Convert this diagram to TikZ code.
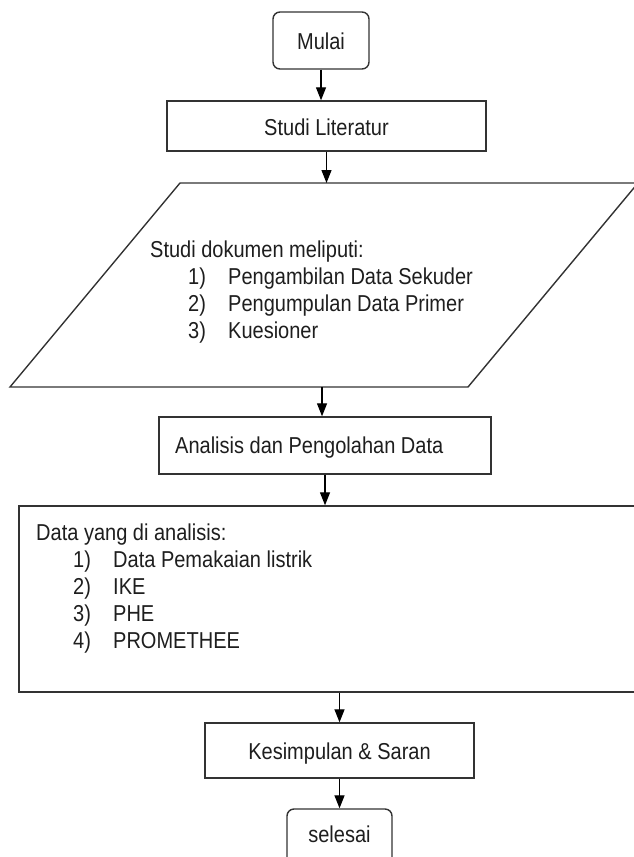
\documentclass[tikz,border=0pt]{standalone}
\usepackage{fontspec}
\setmainfont[FakeStretch=0.87]{Liberation Sans}
\usetikzlibrary{arrows.meta}
\definecolor{ink}{HTML}{1E1E1E}
\definecolor{linec}{HTML}{333333}
\tikzset{
  base/.style={draw=linec, line width=1.4pt, text=ink, inner sep=0pt, font=\fontsize{23}{27}\selectfont},
  termbox/.style={base, rounded corners=7pt},
  procbox/.style={base},
  txt/.style={text=ink, inner sep=0pt, anchor=base west, font=\fontsize{23}{27}\selectfont},
  flow/.style={draw=black, line width=1.3pt, -{Triangle[length=13pt,width=10pt]}},
}
\begin{document}
\begin{tikzpicture}[x=1pt,y=-1pt]
\useasboundingbox (0,0) rectangle (634,857);
\clip (0,0) rectangle (634,857);
\fill[white] (0,0) rectangle (634,857);
% terminals and process boxes
\node[termbox, minimum width=96pt, minimum height=57pt] (mulai) at (321,40.5) {};
\node[txt, anchor=base] (mulaitxt) at (321,49) {Mulai};
\node[procbox, minimum width=319pt, minimum height=50pt] (studi) at (326.5,126) {};
\node[txt, anchor=base] (studitxt) at (326.5,135) {Studi Literatur};
% parallelogram (data)
\draw[draw=linec, line width=1.4pt] (10,387) -- (468,387) -- (638,183) -- (180,183) -- cycle;
\coordinate (paraT) at (326.5,183);
\coordinate (paraB) at (322,387);
\node[txt] (ph) at (150,257) {Studi dokumen meliputi:};
\node[txt] (pn1) at (188,284) {1)};
\node[txt] (pt1) at (228,284) {Pengambilan Data Sekuder};
\node[txt] (pn2) at (188,311) {2)};
\node[txt] (pt2) at (228,311) {Pengumpulan Data Primer};
\node[txt] (pn3) at (188,338) {3)};
\node[txt] (pt3) at (228,338) {Kuesioner};
% analysis
\node[procbox, minimum width=332pt, minimum height=57pt] (analisis) at (325,445.5) {};
\node[txt] (analisistxt) at (175,453) {Analisis dan Pengolahan Data};
% big box
\node[procbox, minimum width=631pt, minimum height=186pt] (big) at (334.5,599) {};
\node[txt] (bh) at (36,540) {Data yang di analisis:};
\node[txt] (bn1) at (73,567) {1)};
\node[txt] (bt1) at (113,567) {Data Pemakaian listrik};
\node[txt] (bn2) at (73,594) {2)};
\node[txt] (bt2) at (113,594) {IKE};
\node[txt] (bn3) at (73,621) {3)};
\node[txt] (bt3) at (113,621) {PHE};
\node[txt] (bn4) at (73,648) {4)};
\node[txt] (bt4) at (113,648) {PROMETHEE};
% conclusion and end
\node[procbox, minimum width=269pt, minimum height=55pt] (kes) at (339.5,750.5) {};
\node[txt, anchor=base] (kestxt) at (339.5,759) {Kesimpulan \& Saran};
\node[termbox, minimum width=105pt, minimum height=57pt] (selesai) at (339.5,837.5) {};
\node[txt, anchor=base] (selesaitxt) at (339.5,842) {selesai};
% connectors
\draw[flow] (mulai.south) -- (mulai.south |- studi.north);
\draw[flow] (studi.south) -- (paraT);
\draw[flow] (paraB) -- (paraB |- analisis.north);
\draw[flow] (analisis.south) -- (analisis.south |- big.north);
\draw[flow] (kes.north |- big.south) -- (kes.north);
\draw[flow] (kes.south) -- (selesai.north);
\end{tikzpicture}
\end{document}
